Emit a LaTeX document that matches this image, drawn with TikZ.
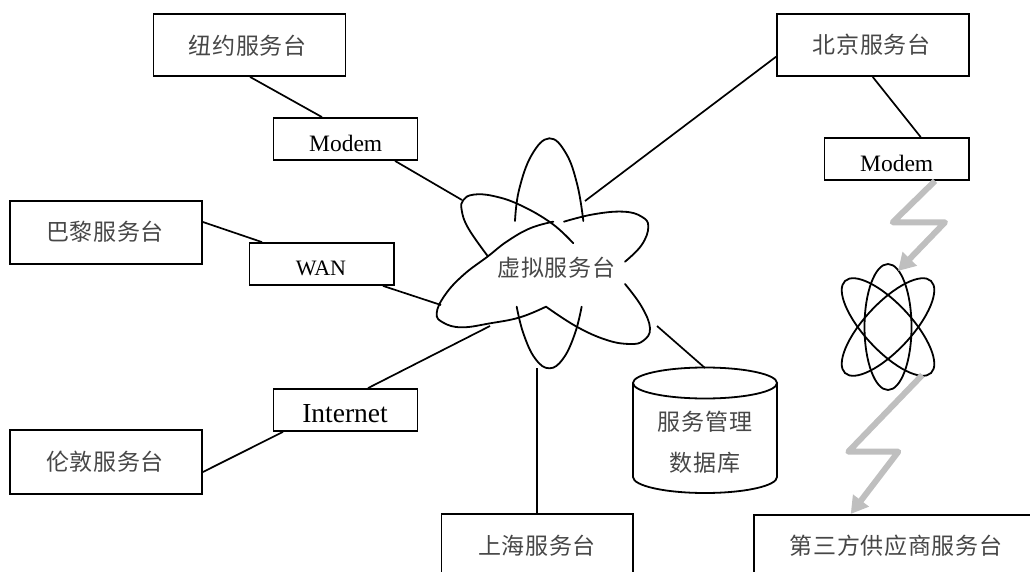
\documentclass[tikz,border=0pt]{standalone}
\usepackage{fontspec}
\usetikzlibrary{arrows.meta}
\setmainfont{Liberation Serif}
\newfontfamily\cjk[LetterSpace=3]{Noto Sans CJK SC}
\tikzset{
  boxnode/.style={draw=black,line width=1.8pt,rectangle,inner sep=0pt,fill=white},
  cjktext/.style={inner sep=0pt,font=\fontsize{23}{41}\cjk,text=black!72,align=center},
  latin/.style={inner sep=0pt,font=\fontsize{#1}{#1}\rmfamily,text=black},
  link/.style={draw=black,line width=1.7pt},
  curve/.style={draw=black,line width=1.8pt,line cap=round},
  bolt/.style={draw=black!25,line width=6pt,line join=round,-{Triangle[width=19pt,length=17pt]}}
}
\begin{document}
\begin{tikzpicture}[x=1pt,y=-1pt]
\useasboundingbox (0,0) rectangle (1030,572);
\node[boxnode,minimum width=192pt,minimum height=62pt] (ny) at (249.5,45) {};
\node[cjktext] (nytext) at (247.7,45.7) {纽约服务台};
\node[boxnode,minimum width=192pt,minimum height=62pt] (bj) at (873,45) {};
\node[cjktext] (bjtext) at (871.7,45) {北京服务台};
\node[boxnode,minimum width=192pt,minimum height=63pt] (paris) at (106,232.5) {};
\node[cjktext] (paristext) at (105,232) {巴黎服务台};
\node[boxnode,minimum width=192pt,minimum height=64pt] (london) at (106,462) {};
\node[cjktext] (londontext) at (105,462) {伦敦服务台};
\node[boxnode,minimum width=191.5pt,minimum height=80pt] (sh) at (537.3,554) {};
\node[cjktext] (shtext) at (537,545.7) {上海服务台};
\node[boxnode,minimum width=300pt,minimum height=80pt,anchor=north west] (third) at (753.4,514) {};
\node[cjktext] (thirdtext) at (896,545.7) {第三方供应商服务台};
\node[boxnode,minimum width=144pt,minimum height=42pt] (m1) at (345.5,139) {};
\node[latin=23.5] (m1text) at (345.7,143) {Modem};
\node[boxnode,minimum width=144.5pt,minimum height=42pt] (wan) at (321.7,264) {};
\node[latin=22] (wantext) at (321,268) {WAN};
\node[boxnode,minimum width=144pt,minimum height=42pt] (inet) at (345.5,410) {};
\node[latin=27.5] (inettext) at (345,414) {Internet};
\node[boxnode,minimum width=144.5pt,minimum height=42pt] (m2) at (896.7,159) {};
\node[latin=23.5] (m2text) at (896.7,163) {Modem};
% central cloud
\begin{scope}[shift={(420pt,-120pt)},x=0.33333pt,y=-0.33333pt]
\draw[curve] plot[smooth,tension=0.7] coordinates {(285,303)(297,210)(335,105)(388,55)(438,100)(472,195)(490,303)};
\draw[curve] plot[smooth,tension=0.7] coordinates {(432,305)(520,283)(610,275)(665,290)(685,320)(665,375)(615,425)};
\draw[curve] plot[smooth,tension=0.7] coordinates {(615,492)(665,560)(690,625)(670,662)(630,672)(560,660)(470,620)(378,560)};
\draw[curve] plot[smooth,tension=0.7] coordinates {(378,560)(300,592)(210,610)(125,622)(70,608)(50,580)(75,525)(130,465)(205,408)(260,365)(330,325)(400,305)};
\draw[curve] plot[smooth,tension=0.7] coordinates {(460,370)(395,310)(300,255)(220,228)(160,224)(130,240)(125,270)(145,325)(203,408)};
\draw[curve] plot[smooth,tension=0.7] coordinates {(290,560)(310,640)(345,715)(388,745)(430,715)(465,640)(485,560)};
\end{scope}
\node[cjktext] (cloud) at (556.5,267.7) {虚拟服务台};
\coordinate (cNW) at (462,200);
\coordinate (cW) at (441,305);
\coordinate (cSW) at (490,326);
\coordinate (cNE) at (585,201);
\coordinate (cSE) at (657,326);
\coordinate (cS) at (537,368);
% atom
\coordinate (atom) at (888,327);
\foreach \r in {0,43,-43}{
  \draw[draw=black,line width=1.8pt,rotate around={\r:(atom)}] (atom) ellipse [x radius=23.5pt,y radius=63pt];
}
% database
\draw[curve,line join=round] (633,383) -- (633,477) arc[start angle=180,end angle=360,x radius=72pt,y radius=16pt] -- (777,383);
\draw[curve] (705,383) ellipse [x radius=72pt,y radius=15.5pt];
\node[cjktext] (db) at (705,442) {服务管理\\数据库};
\coordinate (dbtop) at (705,368);
% connectors
\draw[link] (250,0 |- ny.south) -- (322,0 |- m1.north);
\draw[link] (395,0 |- m1.south) -- (cNW);
\draw[link] (paris.east |- 0,222) -- (262,0 |- wan.north);
\draw[link] (383,0 |- wan.south) -- (cW);
\draw[link] (london.east |- 0,472) -- (283,0 |- inet.south);
\draw[link] (368,0 |- inet.north) -- (cSW);
\draw[link] (bj.west |- 0,56.7) -- (cNE);
\draw[link] (872.7,0 |- bj.south) -- (920.7,0 |- m2.north);
\draw[link] (cSE) -- (dbtop);
\draw[link] (cS) -- (537,0 |- sh.north);
% lightning
\draw[bolt] (935,0 |- m2.south) -- (892.7,222.3) -- (945,222.3) -- (898,271);
\draw[bolt] (922.3,375) -- (848.3,451.7) -- (898.3,451.7) -- (850.7,0 |- third.north);
\end{tikzpicture}
\end{document}
